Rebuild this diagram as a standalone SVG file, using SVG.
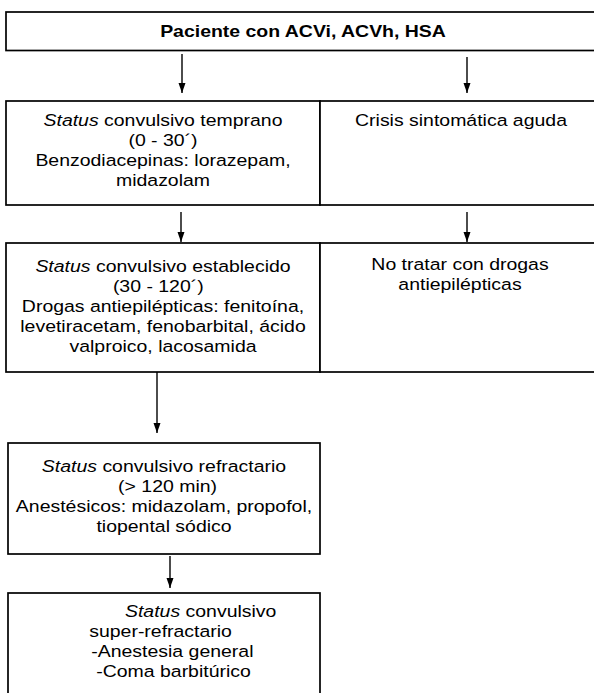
<svg xmlns="http://www.w3.org/2000/svg" width="594" height="693" viewBox="0 0 594 693">
<defs>
<style>
.box{fill:#fff;stroke:#000;stroke-width:1.7}
.t{font-family:"Liberation Sans",Arial,Helvetica,sans-serif;font-size:16.5px;fill:#000;text-anchor:middle}
.b{font-weight:bold}
.c{stroke:#000;stroke-width:1.4;fill:none}
</style>
<marker id="ah" markerUnits="userSpaceOnUse" markerWidth="10" markerHeight="8" refX="10" refY="4" orient="auto">
<path d="M0,0.5 L10,4 L0,7.5 z" fill="#000"/>
</marker>
</defs>
<rect width="594" height="693" fill="#fff"/>
<g id="n-paciente">
<rect class="box" x="6" y="12" width="600" height="38.5"/>
<g transform="translate(303 0) scale(1.18 1)"><text class="t b" x="0" y="37">Paciente con ACVi, ACVh, HSA</text></g>
</g>
<g id="n-temprano">
<rect class="box" x="6" y="101" width="314" height="104"/>
<g transform="translate(163 0) scale(1.18 1)">
<text class="t" x="0" y="126"><tspan font-style="italic">Status</tspan> convulsivo temprano</text>
<text class="t" x="0" y="146">(0 - 30´)</text>
<text class="t" x="0" y="166">Benzodiacepinas: lorazepam,</text>
<text class="t" x="0" y="186">midazolam</text>
</g>
</g>
<g id="n-crisis">
<rect class="box" x="320" y="101" width="290" height="104"/>
<g transform="translate(461 0) scale(1.18 1)"><text class="t" x="0" y="126">Crisis sintomática aguda</text></g>
</g>
<g id="n-establecido">
<rect class="box" x="6" y="243" width="314" height="129"/>
<g transform="translate(163 0) scale(1.18 1)">
<text class="t" x="0" y="272"><tspan font-style="italic">Status</tspan> convulsivo establecido</text>
<text class="t" x="-4" y="292">(30 - 120´)</text>
<text class="t" x="0" y="312">Drogas antiepilépticas: fenitoína,</text>
<text class="t" x="0" y="332">levetiracetam, fenobarbital, ácido</text>
<text class="t" x="0" y="352">valproico, lacosamida</text>
</g>
</g>
<g id="n-notratar">
<rect class="box" x="320" y="243" width="290" height="129"/>
<g transform="translate(460 0) scale(1.18 1)">
<text class="t" x="0" y="270">No tratar con drogas</text>
<text class="t" x="0" y="290">antiepilépticas</text>
</g>
</g>
<g id="n-refractario">
<rect class="box" x="8" y="443" width="312" height="111"/>
<g transform="translate(164 0) scale(1.18 1)">
<text class="t" x="0" y="472"><tspan font-style="italic">Status</tspan> convulsivo refractario</text>
<text class="t" x="3" y="492">(&gt; 120 min)</text>
<text class="t" x="0" y="512">Anestésicos: midazolam, propofol,</text>
<text class="t" x="0" y="532">tiopental sódico</text>
</g>
</g>
<g id="n-superrefractario">
<rect class="box" x="8" y="593" width="312" height="110"/>
<g transform="translate(170 0) scale(1.18 1)">
<text class="t" x="26" y="617"><tspan font-style="italic">Status</tspan> convulsivo</text>
<text class="t" x="-8" y="637">super-refractario</text>
<text class="t" x="2" y="657">-Anestesia general</text>
<text class="t" x="3" y="677">-Coma barbitúrico</text>
</g>
</g>
<g id="connectors">
<line class="c" x1="182" y1="54" x2="182" y2="93" marker-end="url(#ah)"/>
<line class="c" x1="467" y1="57" x2="467" y2="93" marker-end="url(#ah)"/>
<line class="c" x1="181" y1="212" x2="181" y2="242" marker-end="url(#ah)"/>
<line class="c" x1="467" y1="212" x2="467" y2="242" marker-end="url(#ah)"/>
<line class="c" x1="157" y1="372" x2="157" y2="433" marker-end="url(#ah)"/>
<line class="c" x1="170" y1="556" x2="170" y2="588" marker-end="url(#ah)"/>
</g>
</svg>
